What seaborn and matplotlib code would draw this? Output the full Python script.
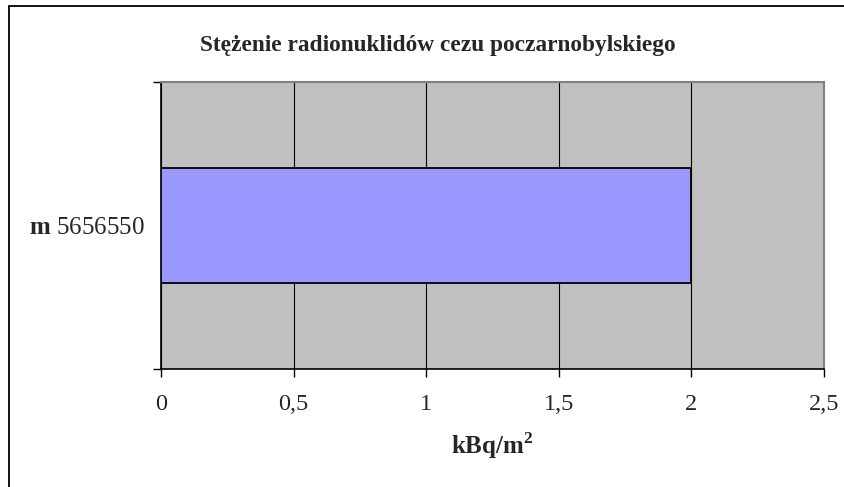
import matplotlib
matplotlib.use("Agg")
import matplotlib.pyplot as plt
import seaborn as sns
import pandas as pd
from matplotlib.patches import Rectangle

# data
categories = ["m 5656550"]
values = [2.0]
xticks = [0, 0.5, 1, 1.5, 2, 2.5]
xtick_labels = ["0", "0,5", "1", "1,5", "2", "2,5"]

df = pd.DataFrame({"site": categories, "kBq": values})

sns.set_style("white")
plt.rcParams['font.family'] = ['Liberation Serif', 'DejaVu Serif']
plt.rcParams['mathtext.fontset'] = 'custom'
plt.rcParams['mathtext.rm'] = 'Liberation Serif'
plt.rcParams['mathtext.bf'] = 'Liberation Serif:bold'

fig = plt.figure(figsize=(8.45, 4.87), dpi=100)
ax = fig.add_axes([161/845, 1 - 369/487, (824 - 161)/845, (369 - 82)/487])
ax.set_facecolor("#C0C0C0")

sns.barplot(data=df, x="kBq", y="site", orient="h", width=0.4, color="#9999FF",
            saturation=1, edgecolor="black", linewidth=1.3, ax=ax, zorder=3)

ax.set_xlim(0, 2.5)
ax.set_ylim(0.5, -0.5)
ax.set_xticks(xticks)
ax.set_xticklabels(xtick_labels, fontsize=17.5)
ax.xaxis.grid(True, color="black", linewidth=0.8, zorder=1)
ax.set_axisbelow(True)
ax.tick_params(axis="x", bottom=True, direction="out", length=6, width=1,
               color="black", pad=12)

# category label in the middle, ticks on the category edges
ax.set_yticks([0])
ax.set_yticklabels([r"$\mathbf{m}$ 5656550"], fontsize=18)
ax.set_yticks([-0.5, 0.5], minor=True)
ax.tick_params(axis="y", which="both", left=True)
ax.tick_params(axis="y", which="major", length=0, pad=12)
ax.tick_params(axis="y", which="minor", direction="out", length=6, width=1, color="black")

ax.set_ylabel("")
ax.set_xlabel("kBq/m$^\\mathbf{2}$", fontsize=18, fontweight="bold", labelpad=11)

for side in ["left", "bottom"]:
    ax.spines[side].set_color("black")
    ax.spines[side].set_linewidth(1.2)
for side in ["top", "right"]:
    ax.spines[side].set_color("#808080")
    ax.spines[side].set_linewidth(1.5)

ax.set_title("Stężenie radionuklidów cezu poczarnobylskiego", fontsize=16.8,
             fontweight="bold", pad=22, x=0.418)

# outer chart frame (right and bottom edges fall outside the image)
fig.patches.append(Rectangle((9.5/845, -0.05), 1.2, 1 - 6/487 + 0.05,
                             transform=fig.transFigure, fill=False,
                             edgecolor="black", linewidth=1.3))

fig.savefig("out.png", dpi=100)
